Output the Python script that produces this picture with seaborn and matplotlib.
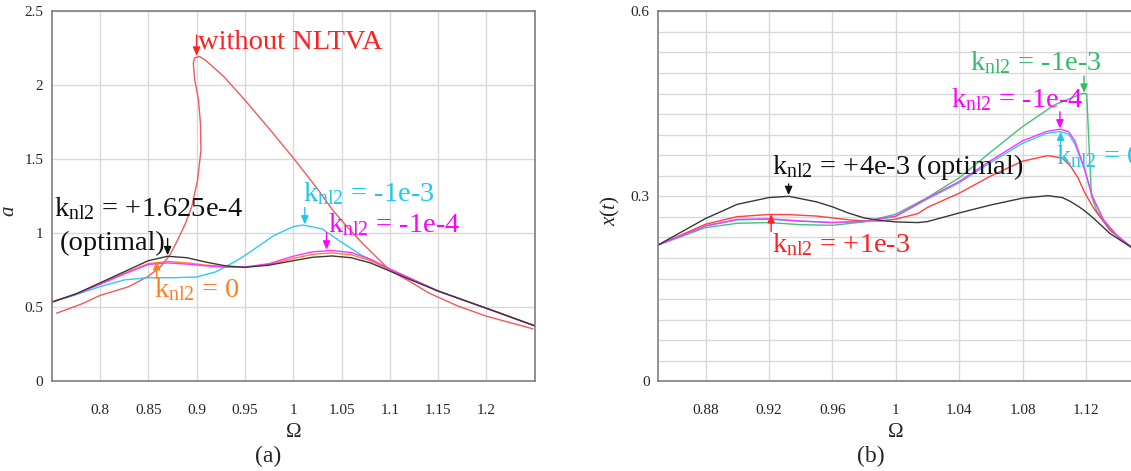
import matplotlib
matplotlib.use("Agg")
import matplotlib.pyplot as plt
from matplotlib.ticker import MultipleLocator
import seaborn as sns
import pandas as pd

sns.set_style("white")
plt.rcParams['font.family'] = ['Liberation Serif', 'DejaVu Serif']
plt.rcParams['mathtext.fontset'] = 'custom'
plt.rcParams['mathtext.rm'] = 'Liberation Serif'
plt.rcParams['mathtext.it'] = 'Liberation Serif:italic'

# ---- panel (a): amplitude a vs Omega ----
om_a = [0.75, 0.775, 0.80, 0.825, 0.85, 0.87, 0.89, 0.91, 0.93, 0.95, 0.975, 1.0,
        1.02, 1.04, 1.06, 1.08, 1.10, 1.12, 1.15, 1.18, 1.21, 1.25]
a_opt = [0.535, 0.59, 0.665, 0.74, 0.815, 0.845, 0.835, 0.805, 0.78, 0.77, 0.785, 0.815,
         0.838, 0.847, 0.835, 0.80, 0.745, 0.69, 0.61, 0.54, 0.47, 0.375]
a_zero = [0.535, 0.59, 0.66, 0.73, 0.795, 0.81, 0.80, 0.785, 0.775, 0.772, 0.79, 0.83,
          0.858, 0.868, 0.855, 0.815, 0.755, 0.695, 0.61, 0.54, 0.47, 0.375]
a_m4 = [0.535, 0.59, 0.655, 0.725, 0.79, 0.80, 0.792, 0.78, 0.772, 0.772, 0.795, 0.845,
        0.875, 0.884, 0.87, 0.825, 0.76, 0.70, 0.61, 0.54, 0.47, 0.375]

om_a_m3 = [0.75, 0.775, 0.80, 0.825, 0.85, 0.875, 0.90, 0.92, 0.94, 0.95, 0.96, 0.98, 1.0,
           1.01, 1.03, 1.05, 1.07, 1.09, 1.11, 1.13, 1.15, 1.18, 1.21, 1.25]
a_m3 = [0.535, 0.585, 0.64, 0.685, 0.70, 0.70, 0.705, 0.74, 0.81, 0.85, 0.895, 0.985, 1.045,
        1.056, 1.03, 0.94, 0.855, 0.785, 0.725, 0.67, 0.61, 0.54, 0.47, 0.375]

# response without the absorber (folded curve, points in path order)
om_free = [0.755, 0.78, 0.80, 0.83, 0.85, 0.862, 0.872, 0.88, 0.888, 0.895, 0.901, 0.9045,
           0.904, 0.902, 0.898, 0.8966, 0.898, 0.903, 0.910, 0.928, 0.95, 0.976, 1.0,
           1.024, 1.041, 1.055, 1.072, 1.10, 1.118, 1.141, 1.17, 1.20, 1.248]
a_free = [0.46, 0.52, 0.58, 0.64, 0.71, 0.77, 0.85, 0.95, 1.06, 1.18, 1.36, 1.56,
          1.74, 1.90, 2.04, 2.15, 2.185, 2.195, 2.165, 2.06, 1.90, 1.70, 1.51,
          1.31, 1.156, 1.05, 0.93, 0.75, 0.685, 0.595, 0.51, 0.44, 0.355]

# ---- panel (b): x(t) vs Omega ----
om_b = [0.85, 0.88, 0.90, 0.92, 0.9326, 0.95, 0.96, 0.97, 0.98, 0.99, 1.0, 1.014, 1.02,
        1.04, 1.06, 1.08, 1.096, 1.105, 1.11, 1.115, 1.119, 1.125, 1.135, 1.15]
x_opt = [0.221, 0.264, 0.287, 0.298, 0.300, 0.291, 0.283, 0.273, 0.265, 0.261, 0.2585, 0.2574, 0.259,
         0.273, 0.286, 0.297, 0.301, 0.298, 0.292, 0.284, 0.277, 0.264, 0.24, 0.215]
x_p3 = [0.221, 0.2547, 0.267, 0.2705, 0.2703, 0.268, 0.265, 0.262, 0.260, 0.260, 0.263, 0.272, 0.282,
        0.305, 0.333, 0.357, 0.366, 0.362, 0.35, 0.33, 0.307, 0.28, 0.246, 0.215]

om_b2 = [0.85, 0.88, 0.90, 0.92, 0.94, 0.96, 0.98, 1.0, 1.02, 1.04, 1.06, 1.08, 1.095,
         1.1036, 1.109, 1.113, 1.119, 1.124, 1.131, 1.14, 1.15]
x_zero = [0.221, 0.252, 0.2618, 0.263, 0.2596, 0.2574, 0.259, 0.2672, 0.2956, 0.322, 0.355, 0.386, 0.402,
          0.405, 0.401, 0.385, 0.345, 0.30, 0.262, 0.235, 0.215]
x_m4 = [0.221, 0.252, 0.2625, 0.2635, 0.260, 0.2575, 0.2595, 0.268, 0.297, 0.324, 0.358, 0.39, 0.405,
        0.409, 0.405, 0.39, 0.345, 0.30, 0.262, 0.235, 0.215]

om_b3 = [0.85, 0.88, 0.90, 0.92, 0.94, 0.96, 0.98, 1.0, 1.02, 1.04, 1.06, 1.08, 1.10,
         1.118, 1.1205, 1.122, 1.1235, 1.127, 1.135, 1.15]
x_m3 = [0.221, 0.2492, 0.2563, 0.2574, 0.254, 0.253, 0.2585, 0.271, 0.298, 0.33, 0.372, 0.413, 0.448,
        0.467, 0.466, 0.38, 0.30, 0.275, 0.245, 0.215]

RED_LINE = '#f05a5a'
CYAN = '#33c8f5'
MAGENTA = '#ff33ff'
ORANGE = '#ff8033'
BLACK = '#383838'
GREEN = '#45c374'
GRID = '#d9d9d9'
SPINE = '#7f7f7f'

LABEL_FS = 20.5
TICK_FS = 11


def knl(val):
    return r'k$_{\mathrm{nl2}}$ = ' + val


def mark(ax, x, y0, y1, color):
    ax.annotate('', xy=(x, y1), xytext=(x, y0),
                arrowprops=dict(arrowstyle='-|>,head_length=0.5,head_width=0.22',
                                color=color, lw=1.0, shrinkA=0, shrinkB=0))


def style_axes(ax):
    for side in ['left', 'top', 'bottom', 'right']:
        ax.spines[side].set_color(SPINE)
        ax.spines[side].set_linewidth(1.2)
    ax.tick_params(which='both', direction='in', color=SPINE, labelsize=TICK_FS)
    ax.tick_params(which='major', length=0)
    ax.tick_params(which='minor', length=4)
    ax.tick_params(axis='x', pad=16)
    ax.tick_params(axis='y', pad=6)


fig = plt.figure(figsize=(11.31, 4.71), dpi=100)
ax1 = fig.add_axes([0.0457, 0.1904, 0.4271, 0.7856])
ax2 = fig.add_axes([0.5818, 0.1904, 0.4204, 0.7856])

# ---------------- (a) ----------------
ax1.grid(True, which='major', color=GRID, lw=1.0)
ax1.set_axisbelow(True)
curves_a = [
    (om_free, a_free, RED_LINE),
    (om_a_m3, a_m3, CYAN),
    (om_a, a_zero, ORANGE),
    (om_a, a_m4, MAGENTA),
    (om_a, a_opt, BLACK),
]
for xs, ys, col in curves_a:
    df = pd.DataFrame({'Omega': xs, 'a': ys})
    sns.lineplot(data=df, x='Omega', y='a', ax=ax1, sort=False, estimator=None,
                 color=col, lw=1.0)

ax1.set_xlim(0.75, 1.25)
ax1.set_ylim(0, 2.5)
ax1.set_xticks([0.8, 0.85, 0.9, 0.95, 1.0, 1.05, 1.1, 1.15, 1.2])
ax1.set_xticklabels(['0.8', '0.85', '0.9', '0.95', '1', '1.05', '1.1', '1.15', '1.2'])
ax1.set_yticks([0, 0.5, 1, 1.5, 2, 2.5])
ax1.set_yticklabels(['0', '0.5', '1', '1.5', '2', '2.5'])
ax1.yaxis.set_minor_locator(MultipleLocator(0.25))
style_axes(ax1)
ax1.set_xlabel('Ω', fontsize=15)
ax1.set_ylabel(r'$a$', fontsize=15)
ax1.xaxis.set_label_coords(0.5, -0.112)
ax1.yaxis.set_label_coords(-0.068, 0.46)

ax1.text(0.9015, 2.29, 'without NLTVA', color='#ff2020', fontsize=LABEL_FS, va='center')
mark(ax1, 0.9, 2.34, 2.2, '#ff2020')
ax1.text(0.752, 1.17, knl('+1.625e-4'), color='#111111', fontsize=LABEL_FS, va='center')
ax1.text(0.758, 0.935, '(optimal)', color='#111111', fontsize=LABEL_FS, va='center')
mark(ax1, 0.870, 0.965, 0.852, '#111111')
ax1.text(1.010, 1.265, knl('-1e-3'), color='#1ec8f0', fontsize=LABEL_FS, va='center')
mark(ax1, 1.012, 1.175, 1.06, '#1ec8f0')
ax1.text(1.036, 1.06, knl('-1e-4'), color='#ff00ff', fontsize=LABEL_FS, va='center')
mark(ax1, 1.0345, 1.005, 0.89, '#ff00ff')
ax1.text(0.856, 0.62, knl('0'), color='#ff7f27', fontsize=LABEL_FS, va='center')
mark(ax1, 0.8587, 0.70, 0.812, '#ff7f27')

# ---------------- (b) ----------------
ax2.grid(True, which='both', color=GRID, lw=1.0)
ax2.set_axisbelow(True)
curves_b = [
    (om_b3, x_m3, GREEN),
    (om_b, x_p3, '#ff4040'),
    (om_b2, x_zero, CYAN),
    (om_b2, x_m4, MAGENTA),
    (om_b, x_opt, BLACK),
]
for xs, ys, col in curves_b:
    df = pd.DataFrame({'Omega': xs, 'x': ys})
    sns.lineplot(data=df, x='Omega', y='x', ax=ax2, sort=False, estimator=None,
                 color=col, lw=1.0)

ax2.set_xlim(0.85, 1.15)
ax2.set_ylim(0, 0.6)
ax2.set_xticks([0.88, 0.92, 0.96, 1.0, 1.04, 1.08, 1.12])
ax2.set_xticklabels(['0.88', '0.92', '0.96', '1', '1.04', '1.08', '1.12'])
ax2.set_yticks([0, 0.3, 0.6])
ax2.set_yticklabels(['0', '0.3', '0.6'])
ax2.yaxis.set_minor_locator(MultipleLocator(0.6 / 18))
ax2.xaxis.set_minor_locator(MultipleLocator(0.04))
style_axes(ax2)
ax2.tick_params(axis='x', which='minor', length=0)
ax2.spines['right'].set_visible(False)
ax2.set_xlabel('Ω', fontsize=15)
ax2.set_ylabel(r'$x(t)$', fontsize=15)
ax2.xaxis.set_label_coords(0.5, -0.112)
ax2.yaxis.set_label_coords(-0.076, 0.46)

ax2.text(0.922, 0.348, knl('+4e-3 (optimal)'), color='#111111', fontsize=LABEL_FS, va='center')
mark(ax2, 0.9324, 0.32, 0.302, '#111111')
ax2.text(0.922, 0.222, knl('+1e-3'), color='#ff2020', fontsize=LABEL_FS, va='center')
mark(ax2, 0.9214, 0.243, 0.271, '#ff2020')
ax2.text(1.047, 0.517, knl('-1e-3'), color='#33bb66', fontsize=LABEL_FS, va='center')
mark(ax2, 1.1188, 0.495, 0.468, '#33bb66')
ax2.text(1.0346, 0.4575, knl('-1e-4'), color='#ff00ff', fontsize=LABEL_FS, va='center')
mark(ax2, 1.1036, 0.437, 0.41, '#ff00ff')
# this label runs off the right edge in the original figure as well
ax2.text(1.101, 0.365, knl('0'), color='#1ec8f0', fontsize=LABEL_FS, va='center',
         clip_on=False)
mark(ax2, 1.104, 0.382, 0.405, '#1ec8f0')

fig.text(0.237, 0.03, '(a)', fontsize=17, ha='center', va='center')
fig.text(0.770, 0.03, '(b)', fontsize=17, ha='center', va='center')

fig.savefig('out.png', dpi=100)
